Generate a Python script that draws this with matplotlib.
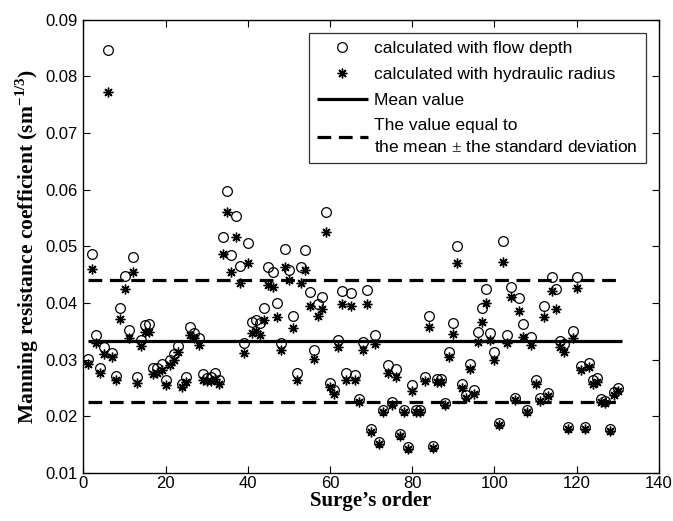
# Manning resistance coefficient per surge: flow depth vs hydraulic radius
import numpy as np
import matplotlib
matplotlib.use('Agg')
import matplotlib.pyplot as plt

# ── data ──
surge = np.arange(1, 131)
n_depth = [0.0302, 0.0486, 0.0343, 0.0286, 0.0322, 0.0846, 0.0312, 0.0271, 0.0391, 0.0448,
           0.0353, 0.0481, 0.0269, 0.0335, 0.0361, 0.0363, 0.0285, 0.0286, 0.0293, 0.0265,
           0.0300, 0.0311, 0.0324, 0.0258, 0.0270, 0.0357, 0.0348, 0.0338, 0.0275, 0.0268,
           0.0270, 0.0277, 0.0264, 0.0517, 0.0598, 0.0485, 0.0554, 0.0465, 0.0330, 0.0506,
           0.0367, 0.0371, 0.0364, 0.0392, 0.0463, 0.0455, 0.0400, 0.0330, 0.0495, 0.0458,
           0.0377, 0.0277, 0.0463, 0.0494, 0.0419, 0.0317, 0.0398, 0.0411, 0.0561, 0.0259,
           0.0246, 0.0334, 0.0421, 0.0277, 0.0417, 0.0273, 0.0230, 0.0332, 0.0423, 0.0177,
           0.0344, 0.0155, 0.0211, 0.0290, 0.0226, 0.0283, 0.0169, 0.0212, 0.0146, 0.0255,
           0.0212, 0.0211, 0.0269, 0.0377, 0.0147, 0.0266, 0.0266, 0.0224, 0.0314, 0.0364,
           0.0500, 0.0258, 0.0237, 0.0293, 0.0246, 0.0349, 0.0391, 0.0424, 0.0348, 0.0314,
           0.0188, 0.0509, 0.0343, 0.0429, 0.0233, 0.0409, 0.0363, 0.0212, 0.0340, 0.0265,
           0.0232, 0.0395, 0.0242, 0.0446, 0.0424, 0.0333, 0.0327, 0.0181, 0.0351, 0.0446,
           0.0289, 0.0181, 0.0295, 0.0264, 0.0267, 0.0231, 0.0228, 0.0177, 0.0243, 0.0251]
n_radius = [0.0293, 0.0461, 0.0330, 0.0277, 0.0310, 0.0772, 0.0305, 0.0265, 0.0372, 0.0424,
            0.0338, 0.0455, 0.0259, 0.0324, 0.0349, 0.0349, 0.0275, 0.0276, 0.0282, 0.0255,
            0.0290, 0.0299, 0.0314, 0.0252, 0.0261, 0.0343, 0.0339, 0.0326, 0.0264, 0.0262,
            0.0262, 0.0266, 0.0258, 0.0486, 0.0560, 0.0455, 0.0516, 0.0435, 0.0312, 0.0470,
            0.0347, 0.0350, 0.0343, 0.0370, 0.0432, 0.0429, 0.0376, 0.0317, 0.0463, 0.0440,
            0.0356, 0.0265, 0.0436, 0.0458, 0.0394, 0.0302, 0.0377, 0.0390, 0.0526, 0.0252,
            0.0240, 0.0322, 0.0399, 0.0265, 0.0394, 0.0264, 0.0225, 0.0318, 0.0399, 0.0173,
            0.0328, 0.0152, 0.0207, 0.0277, 0.0220, 0.0270, 0.0166, 0.0208, 0.0143, 0.0245,
            0.0208, 0.0207, 0.0262, 0.0358, 0.0145, 0.0260, 0.0260, 0.0220, 0.0304, 0.0346,
            0.0470, 0.0251, 0.0233, 0.0283, 0.0240, 0.0331, 0.0367, 0.0400, 0.0335, 0.0300,
            0.0185, 0.0473, 0.0329, 0.0410, 0.0229, 0.0386, 0.0340, 0.0208, 0.0326, 0.0257,
            0.0228, 0.0375, 0.0236, 0.0421, 0.0389, 0.0322, 0.0314, 0.0178, 0.0338, 0.0426,
            0.0282, 0.0178, 0.0288, 0.0258, 0.0260, 0.0226, 0.0223, 0.0175, 0.0238, 0.0245]
mean_n = 0.0333
std_n = 0.0107
line_span = [1, 131]          # surge range the mean / +-std lines are drawn over

plt.rcParams['font.family'] = ['Liberation Sans', 'DejaVu Sans']
plt.rcParams['mathtext.fontset'] = 'custom'
plt.rcParams['mathtext.rm'] = 'Liberation Serif'
plt.rcParams['mathtext.bf'] = 'Liberation Serif:bold'

fig = plt.figure(figsize=(6.73, 5.21), dpi=100)
ax = fig.add_axes([0.124, 0.092, 0.855, 0.870])

ax.plot(surge, n_depth, 'o', mfc='none', mec='k', ms=7, mew=0.9, label='calculated with flow depth')
ax.plot(surge, n_radius, ls='none', marker=(8, 2, 0), color='k', ms=7, mew=1.0,
        label='calculated with hydraulic radius')
ax.plot(line_span, [mean_n] * 2, color='k', lw=2.3, solid_capstyle='butt', label='Mean value')
ax.plot(line_span, [mean_n + std_n] * 2, color='k', lw=2.3, ls=(0, (4.3, 2.4)),
        label='The value equal to\nthe mean $\\pm$ the standard deviation')
ax.plot(line_span, [mean_n - std_n] * 2, color='k', lw=2.3, ls=(0, (4.3, 2.4)))

ax.set_xlim(0, 140); ax.set_ylim(0.01, 0.09)
ax.set_xticks(np.arange(0, 141, 20))
ax.set_yticks(np.arange(0.01, 0.0901, 0.01))
ax.set_yticklabels([f'{v:.2f}' for v in np.arange(0.01, 0.0901, 0.01)])
ax.tick_params(direction='in', top=True, right=True, labelsize=12, length=5, width=0.8)
ax.tick_params(axis='x', pad=2); ax.tick_params(axis='y', pad=4)
for s in ax.spines.values():
    s.set_linewidth(1.0)

ax.set_xlabel("Surge\u2019s order", family='Liberation Serif', weight='bold', fontsize=15, labelpad=0)
ax.set_ylabel(r'Manning resistance coefficient (sm$^{\mathbf{-1/3}}$)', family='Liberation Serif',
              weight='bold', fontsize=15.5, labelpad=3)

leg = ax.legend(loc='upper right', fontsize=12.5, frameon=True, fancybox=False, handlelength=2.9,
                borderaxespad=0.75, labelspacing=0.62, handletextpad=0.4, borderpad=0.45)
leg.get_texts()[3].set_linespacing(1.45)
leg.get_frame().set_edgecolor('k'); leg.get_frame().set_linewidth(0.9)

plt.savefig('out.png', dpi=100)
